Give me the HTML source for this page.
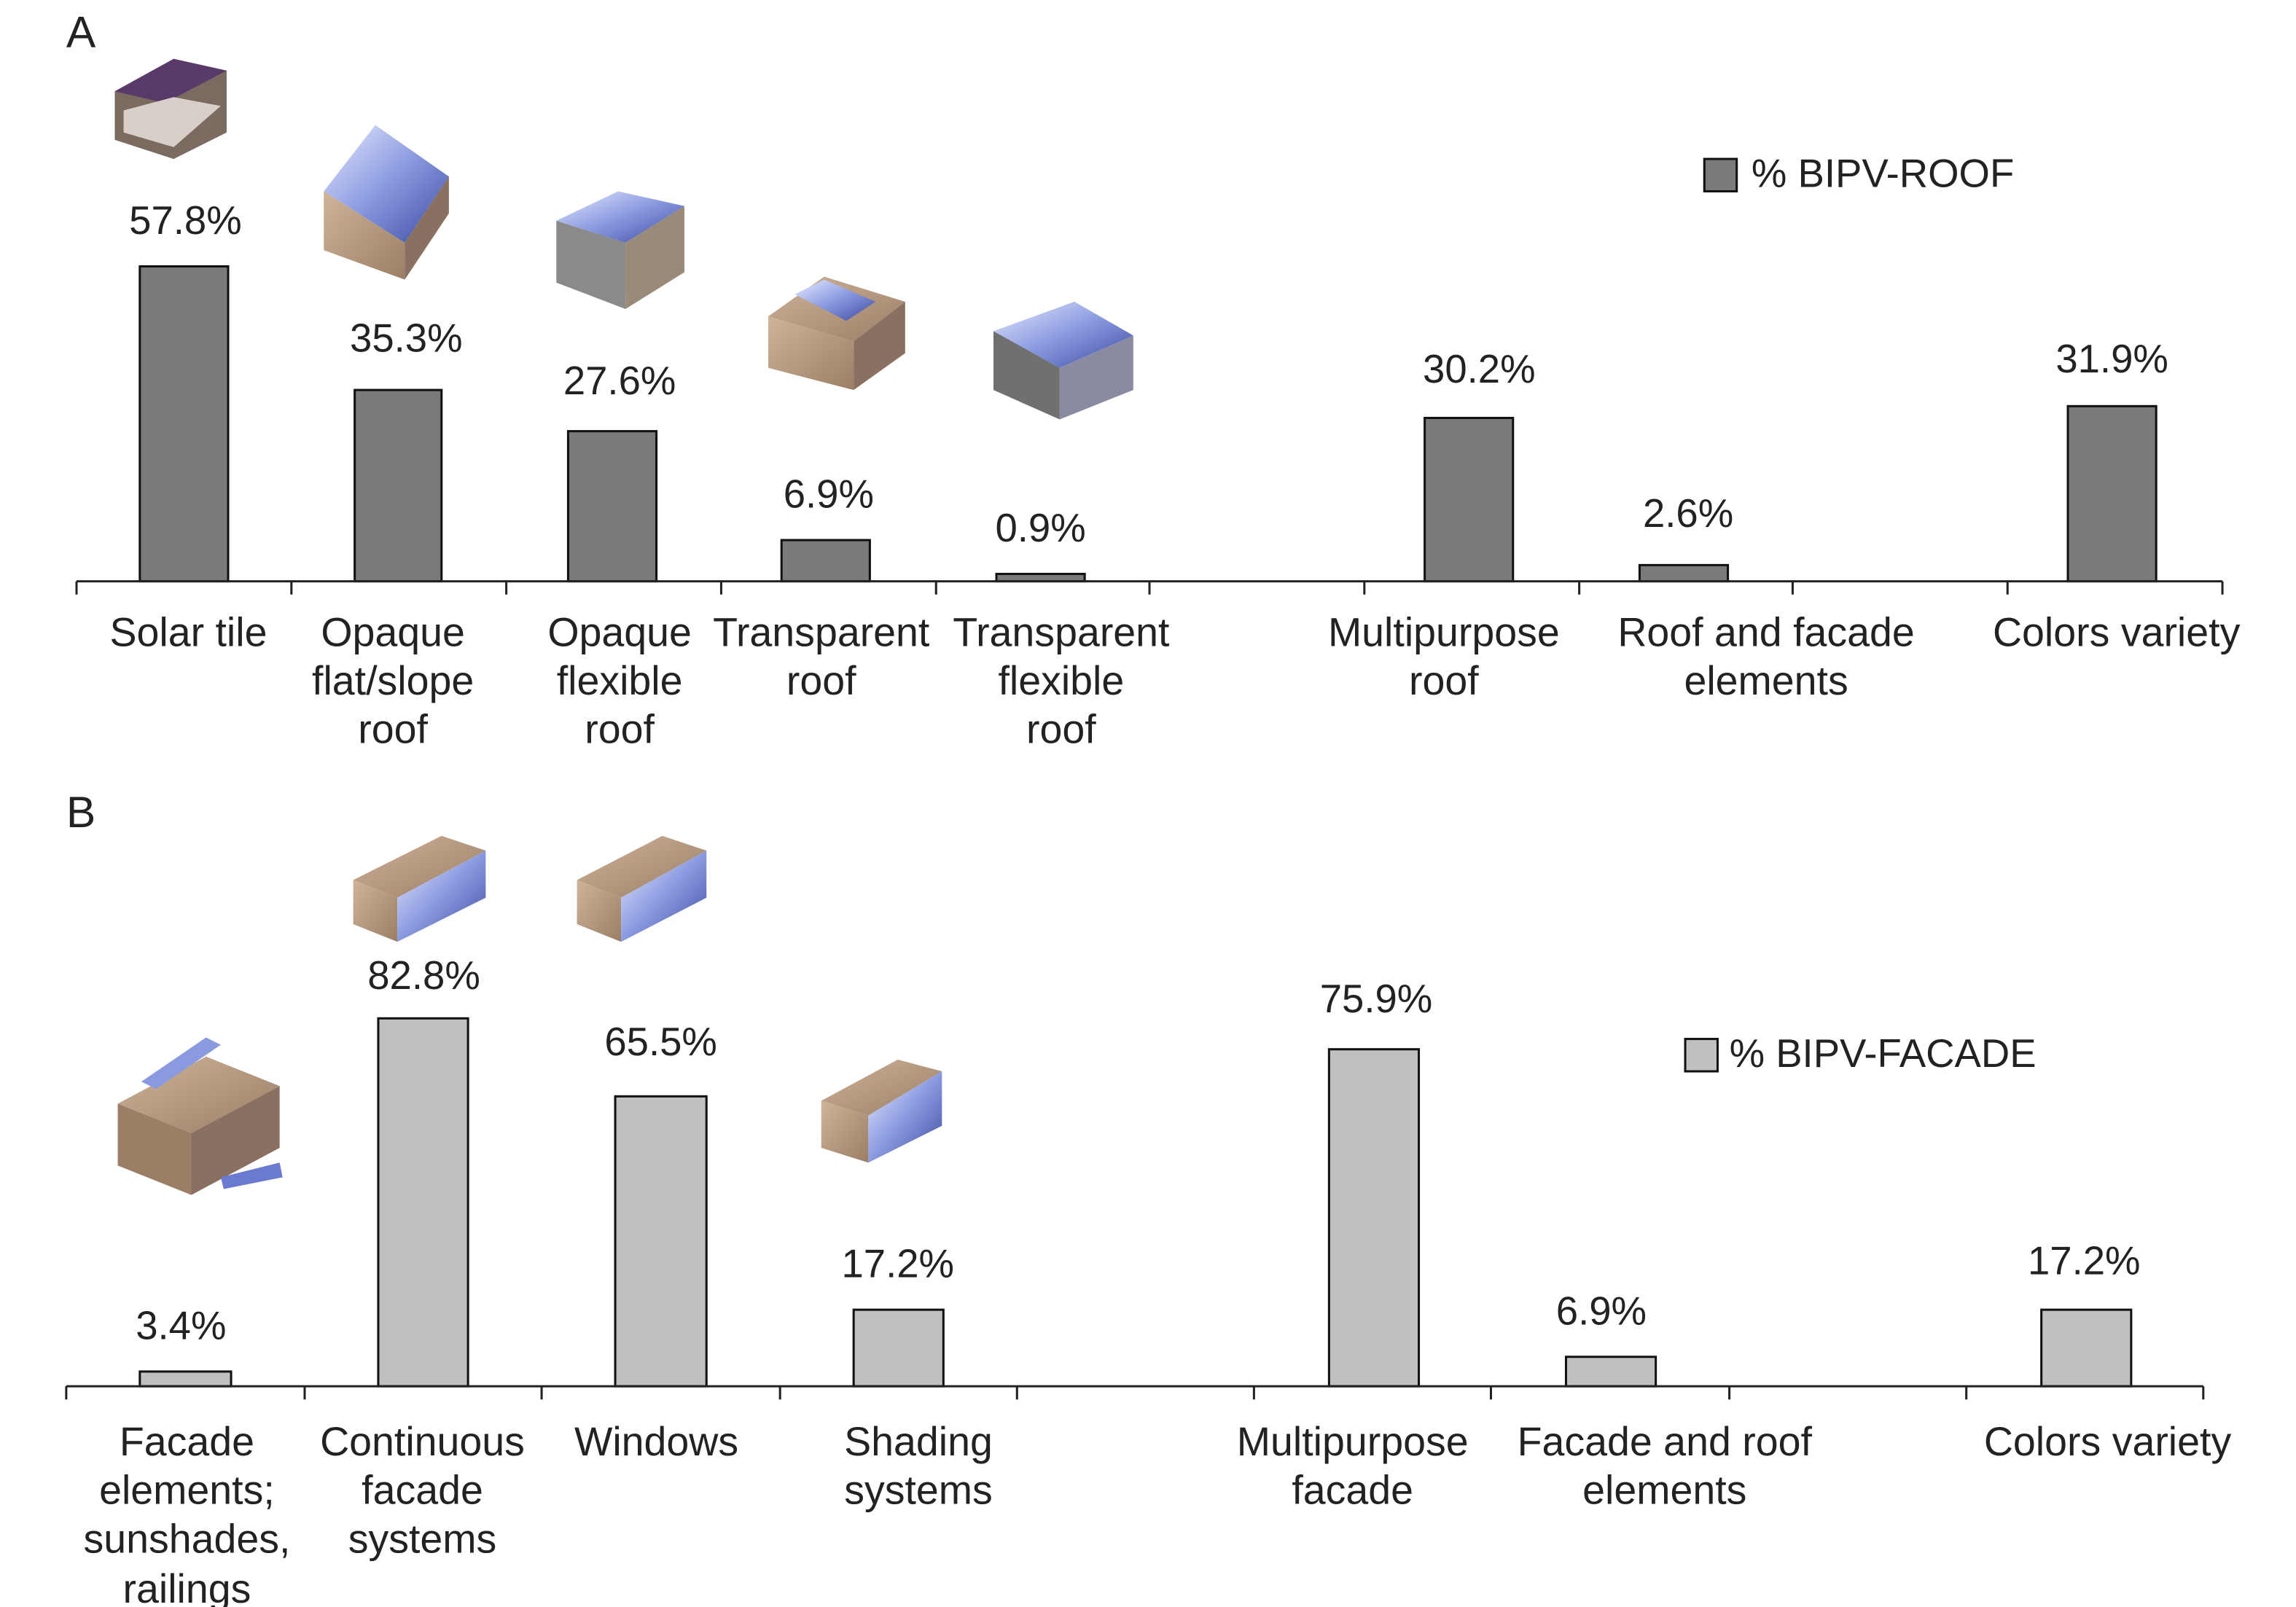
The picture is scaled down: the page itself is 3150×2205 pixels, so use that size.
<!DOCTYPE html>
<html><head><meta charset="utf-8"><style>
html,body{margin:0;padding:0;background:#fff;}
svg{display:block;}
text{font-family:"Liberation Sans",Arial,sans-serif;fill:#222;}
</style></head><body>
<svg width="3150" height="2205" viewBox="0 0 1560 1092" xmlns="http://www.w3.org/2000/svg">
<defs>
<linearGradient id="bl" x1="0" y1="0" x2="1" y2="1"><stop offset="0" stop-color="#e8ecff"/><stop offset="0.5" stop-color="#8a9ae0"/><stop offset="1" stop-color="#3a4aa0"/></linearGradient>
<linearGradient id="tan" x1="0" y1="0" x2="1" y2="1"><stop offset="0" stop-color="#cfb49a"/><stop offset="1" stop-color="#9a7e66"/></linearGradient>
</defs>
<text x="45" y="32" font-size="30">A</text>
<text x="45" y="562" font-size="30">B</text>

<g>
<polygon points="78,62 118,40 154,48 154,90 118,108 78,95" fill="#7a6a60"/>
<polygon points="78,62 118,40 154,48 112,70" fill="#5a3a6a"/>
<polygon points="84,75 118,66 150,72 118,100 84,90" fill="#d8d0c8"/>
<polygon points="220,130 255,85 305,120 275,165" fill="url(#bl)"/>
<polygon points="220,130 275,165 275,190 220,170" fill="url(#tan)"/>
<polygon points="275,165 305,120 305,145 275,190" fill="#8a7060"/>
<polygon points="378,150 420,130 465,140 425,165" fill="url(#bl)"/>
<polygon points="378,150 425,165 425,210 378,192" fill="#8a8a8a"/>
<polygon points="425,165 465,140 465,185 425,210" fill="#9a8a7a"/>
<polygon points="522,215 560,188 615,205 580,232" fill="url(#tan)"/>
<polygon points="540,200 560,190 595,205 575,218" fill="url(#bl)"/>
<polygon points="522,215 580,232 580,265 522,250" fill="url(#tan)"/>
<polygon points="580,232 615,205 615,240 580,265" fill="#8a7060"/>
<polygon points="675,225 730,205 770,228 720,250" fill="url(#bl)"/>
<polygon points="675,225 720,250 720,285 675,265" fill="#707070"/>
<polygon points="720,250 770,228 770,265 720,285" fill="#8a8aa0"/>
</g>

<g fill="#7a7a7a" stroke="#111" stroke-width="1.5">
<rect x="95" y="181" width="60" height="214"/>
<rect x="241" y="265" width="59" height="130"/>
<rect x="386" y="293" width="60" height="102"/>
<rect x="531" y="367" width="60" height="28"/>
<rect x="677" y="390" width="60" height="5"/>
<rect x="968" y="284" width="60" height="111"/>
<rect x="1114" y="384" width="60" height="11"/>
<rect x="1405" y="276" width="60" height="119"/>
</g>
<g stroke="#222" stroke-width="1.5">
<line x1="52" y1="395" x2="1510" y2="395"/>
<line x1="52" y1="395" x2="52" y2="404"/><line x1="198" y1="395" x2="198" y2="404"/><line x1="344" y1="395" x2="344" y2="404"/><line x1="490" y1="395" x2="490" y2="404"/><line x1="636" y1="395" x2="636" y2="404"/><line x1="781" y1="395" x2="781" y2="404"/><line x1="927" y1="395" x2="927" y2="404"/><line x1="1073" y1="395" x2="1073" y2="404"/><line x1="1218" y1="395" x2="1218" y2="404"/><line x1="1364" y1="395" x2="1364" y2="404"/><line x1="1510" y1="395" x2="1510" y2="404"/>
</g>
<g font-size="27" text-anchor="middle">
<text x="126" y="159">57.8%</text>
<text x="276" y="239">35.3%</text>
<text x="421" y="268">27.6%</text>
<text x="563" y="345">6.9%</text>
<text x="707" y="368">0.9%</text>
<text x="1005" y="260">30.2%</text>
<text x="1147" y="358">2.6%</text>
<text x="1435" y="253">31.9%</text>
</g>
<g font-size="27.5" text-anchor="middle">
<text x="128" y="439">Solar tile</text>
<text x="267" y="439">Opaque</text><text x="267" y="472">flat/slope</text><text x="267" y="505">roof</text>
<text x="421" y="439">Opaque</text><text x="421" y="472">flexible</text><text x="421" y="505">roof</text>
<text x="558" y="439">Transparent</text><text x="558" y="472">roof</text>
<text x="721" y="439">Transparent</text><text x="721" y="472">flexible</text><text x="721" y="505">roof</text>
<text x="981" y="439">Multipurpose</text><text x="981" y="472">roof</text>
<text x="1200" y="439">Roof and facade</text><text x="1200" y="472">elements</text>
<text x="1438" y="439">Colors variety</text>
</g>
<rect x="1158" y="108" width="22" height="22" fill="#7a7a7a" stroke="#111" stroke-width="1.5"/>
<text x="1190" y="127" font-size="27">% BIPV-ROOF</text>

<g>
<polygon points="240,598 300,568 330,578 270,610" fill="url(#tan)"/>
<polygon points="240,598 270,610 270,640 240,628" fill="url(#tan)"/>
<polygon points="270,610 330,578 330,610 270,640" fill="url(#bl)"/>
<polygon points="392,598 450,568 480,578 422,610" fill="url(#tan)"/>
<polygon points="392,598 422,610 422,640 392,628" fill="url(#tan)"/>
<polygon points="422,610 480,578 480,610 422,640" fill="url(#bl)"/>
<polygon points="80,750 140,718 190,738 130,770" fill="url(#tan)"/>
<polygon points="80,750 130,770 130,812 80,792" fill="#9a7e66"/>
<polygon points="130,770 190,738 190,780 130,812" fill="#8a7060"/>
<polygon points="96,735 140,705 150,710 106,740" fill="#8a9ae0"/>
<polygon points="150,800 190,790 192,800 152,808" fill="#6a7ad0"/>
<polygon points="558,748 610,720 640,728 590,758" fill="url(#tan)"/>
<polygon points="558,748 590,758 590,790 558,780" fill="url(#tan)"/>
<polygon points="590,758 640,728 640,765 590,790" fill="url(#bl)"/>
</g>

<g fill="#c0c0c0" stroke="#111" stroke-width="1.5">
<rect x="95" y="932" width="62" height="10"/>
<rect x="257" y="692" width="61" height="250"/>
<rect x="418" y="745" width="62" height="197"/>
<rect x="580" y="890" width="61" height="52"/>
<rect x="903" y="713" width="61" height="229"/>
<rect x="1064" y="922" width="61" height="20"/>
<rect x="1387" y="890" width="61" height="52"/>
</g>
<g stroke="#222" stroke-width="1.5">
<line x1="45" y1="942" x2="1497" y2="942"/>
<line x1="45" y1="942" x2="45" y2="951"/><line x1="207" y1="942" x2="207" y2="951"/><line x1="368" y1="942" x2="368" y2="951"/><line x1="530" y1="942" x2="530" y2="951"/><line x1="691" y1="942" x2="691" y2="951"/><line x1="852" y1="942" x2="852" y2="951"/><line x1="1013" y1="942" x2="1013" y2="951"/><line x1="1175" y1="942" x2="1175" y2="951"/><line x1="1336" y1="942" x2="1336" y2="951"/><line x1="1497" y1="942" x2="1497" y2="951"/>
</g>
<g font-size="27" text-anchor="middle">
<text x="123" y="910">3.4%</text>
<text x="288" y="672">82.8%</text>
<text x="449" y="717">65.5%</text>
<text x="610" y="868">17.2%</text>
<text x="935" y="688">75.9%</text>
<text x="1088" y="900">6.9%</text>
<text x="1416" y="866">17.2%</text>
</g>
<g font-size="27.5" text-anchor="middle">
<text x="127" y="989">Facade</text><text x="127" y="1022">elements;</text><text x="127" y="1055">sunshades,</text><text x="127" y="1089">railings</text>
<text x="287" y="989">Continuous</text><text x="287" y="1022">facade</text><text x="287" y="1055">systems</text>
<text x="446" y="989">Windows</text>
<text x="624" y="989">Shading</text><text x="624" y="1022">systems</text>
<text x="919" y="989">Multipurpose</text><text x="919" y="1022">facade</text>
<text x="1131" y="989">Facade and roof</text><text x="1131" y="1022">elements</text>
<text x="1432" y="989">Colors variety</text>
</g>
<rect x="1145" y="706" width="22" height="22" fill="#c0c0c0" stroke="#111" stroke-width="1.5"/>
<text x="1175" y="725" font-size="27">% BIPV-FACADE</text>
</svg>
</body></html>
